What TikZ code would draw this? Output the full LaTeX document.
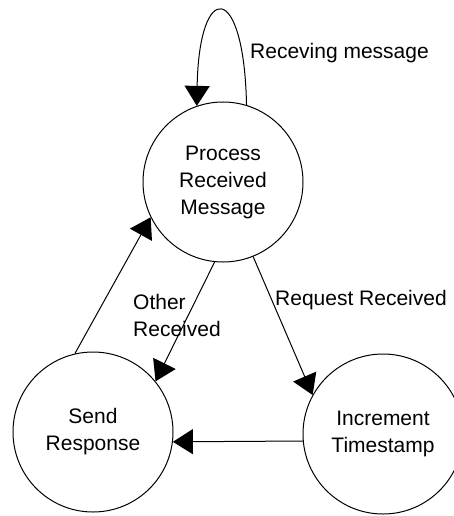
\documentclass[tikz,border=0pt]{standalone}
\usepackage{fontspec}
\setmainfont{Liberation Sans}
\usetikzlibrary{arrows.meta}
\begin{document}
\begin{tikzpicture}[x=1pt,y=-1pt,
  every node/.style={font=\fontsize{21pt}{27pt}\selectfont},
  state/.style={draw,circle,minimum size=160pt,inner sep=0pt,align=center,line width=1pt},
  lbl/.style={inner sep=0pt,anchor=west,align=left},
  arr/.style={line width=1pt,-{Triangle[width=25pt,length=20pt]}}]
\useasboundingbox (0,0) rectangle (454,516);
\clip (0,0) rectangle (454,516);
\fill[white] (0,0) rectangle (454,516);
\node[state] (proc) at (223,182) {Process\\Received\\Message};
\node[state] (send) at (93,432) {Send\\Response};
\node[state] (inc) at (383,434) {Increment\\Timestamp};
\node[lbl] (lloop) at (250,53) {Receving message};
\node[lbl] (lreq) at (275,300) {Request Received};
\node[lbl] (loth) at (133,315) {Other\\Received};
\draw[arr] (proc.73) .. controls (244,-20) and (199,-20) .. (proc.109);
\draw[arr] (send.103) -- (proc.206);
\draw[arr] (proc.264) -- (send.39);
\draw[arr] (proc.292) -- (inc.151);
\draw[arr] (inc.185) -- (send.353);
\end{tikzpicture}
\end{document}
